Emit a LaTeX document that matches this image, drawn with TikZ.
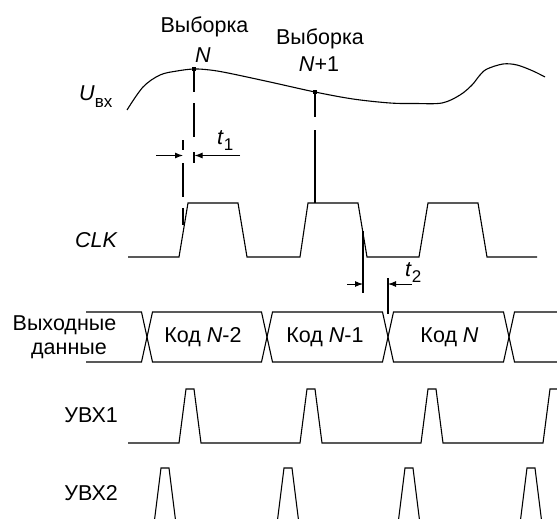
\documentclass[tikz,border=0pt]{standalone}
\usepackage{fontspec}
\setmainfont{Liberation Sans}
\usetikzlibrary{arrows.meta}
\newcommand{\lowsub}[2]{\raisebox{-#1}{\fontsize{17}{19}\selectfont #2}}
\begin{document}
\begin{tikzpicture}[x=1pt,y=-1pt,
  wave/.style={line width=1.1pt, line join=miter},
  vline/.style={line width=1.1pt},
  lbl/.style={font=\fontsize{21.5}{24}\selectfont, inner sep=0pt},
  dimarrow/.style={-{Latex[length=8pt,width=6pt]}, line width=1pt},
  smp/.style={fill=black, draw=none, minimum size=4.5pt, inner sep=0pt}]
\fill[white] (0,0) rectangle (557,519);
\clip (0,0) rectangle (557,519);

% ---- input signal
\draw[wave] plot[smooth, tension=0.55] coordinates {(127,110) (143,87) (160,75) (177,71) (194,69) (210,70) (228,73) (270,82) (315,92) (353,99) (390,103) (415,103.5) (442,103) (460,95) (472,85) (480,75) (487,69) (503,64) (517,65) (533,71) (545,77)};
\node[smp] (sN) at (194,69) {};
\node[smp] (sN1) at (315,92) {};

\node[lbl, anchor=base] (w1) at (204.5,33) {Выборка};
\node[lbl, anchor=base] (n1) at (203,63) {\textit{N}};
\node[lbl, anchor=base] (w2) at (320,45) {Выборка};
\node[lbl, anchor=base] (n2) at (319,72) {\textit{N}+1};
\node[lbl, anchor=base west] (uin) at (79,100) {\textit{U}\lowsub{7pt}{вх}};

% ---- dashed reference lines
\draw[vline] (sN.center) -- (194,92) (194,103) -- (194,137) (194,152) -- (194,163);
\draw[vline] (183,140) -- (183,150) (183,163) -- (183,197) (183,208) -- (183,225);
\draw[vline] (sN1.center) -- (315,117) (315,130) -- (315,203);
\draw[vline] (363,231) -- (363,293);
\draw[vline] (388,278) -- (388,314);

% ---- t1 dimension
\coordinate (t1l) at (156,155.5);
\coordinate (t1a) at (183,155.5);
\coordinate (t1b) at (194.5,155.5);
\coordinate (t1r) at (240,155.5);
\draw[dimarrow] (t1l) -- (t1a);
\draw[dimarrow] (t1r) -- (t1b);
\node[lbl, anchor=base west] (t1) at (217,144) {\textit{t}\lowsub{6pt}{1}};

% ---- t2 dimension
\coordinate (t2l) at (347,284);
\coordinate (t2a) at (363,284);
\coordinate (t2b) at (388,284);
\coordinate (t2r) at (412,284);
\draw[dimarrow] (t2l) -- (t2a);
\draw[dimarrow] (t2r) -- (t2b);
\node[lbl, anchor=base west] (t2) at (405,276) {\textit{t}\lowsub{6pt}{2}};

% ---- CLK
\node[lbl, anchor=base east] (clk) at (118,247) {\textit{CLK}};
\draw[wave] (128,257) -- (179,257) -- (188,203) -- (238,203) -- (247,257)
  -- (300,257) -- (308,203) -- (358,203) -- (367,257)
  -- (419,257) -- (428,203) -- (478,203) -- (487,257) -- (537,257);

% ---- output data bus
\node[lbl, anchor=base] (od1) at (64.5,330) {Выходные};
\node[lbl, anchor=base] (od2) at (69,354) {данные};
\draw[wave] (86,312) -- (141.5,312) -- (152.5,362) -- (261.5,362) -- (272.5,312)
  -- (382.5,312) -- (393.5,362) -- (503.5,362) -- (514.5,312) -- (560,312);
\draw[wave] (86,362) -- (141.5,362) -- (152.5,312) -- (261.5,312) -- (272.5,362)
  -- (382.5,362) -- (393.5,312) -- (503.5,312) -- (514.5,362) -- (560,362);
\node[lbl, anchor=base] (k1) at (203,342) {Код \textit{N}-2};
\node[lbl, anchor=base] (k2) at (325,342) {Код \textit{N}-1};
\node[lbl, anchor=base] (k3) at (449.5,342) {Код \textit{N}};

% ---- UVX1
\node[lbl, anchor=base east] (u1) at (118,422) {УВХ1};
\draw[wave] (128,443) -- (179,443) -- (186,389) -- (194,389) -- (201,443)
  -- (300,443) -- (307,389) -- (315,389) -- (322,443)
  -- (421,443) -- (428,389) -- (436,389) -- (443,443)
  -- (543,443) -- (550,389) -- (560,389);

% ---- UVX2
\node[lbl, anchor=base east] (u2) at (118,500) {УВХ2};
\draw[wave] (128,524) -- (154,524) -- (161,468) -- (169,468) -- (176,524)
  -- (277,524) -- (284,468) -- (292,468) -- (299,524)
  -- (398,524) -- (405,468) -- (413,468) -- (420,524)
  -- (520,524) -- (527,468) -- (535,468) -- (542,524) -- (560,524);
\end{tikzpicture}
\end{document}
